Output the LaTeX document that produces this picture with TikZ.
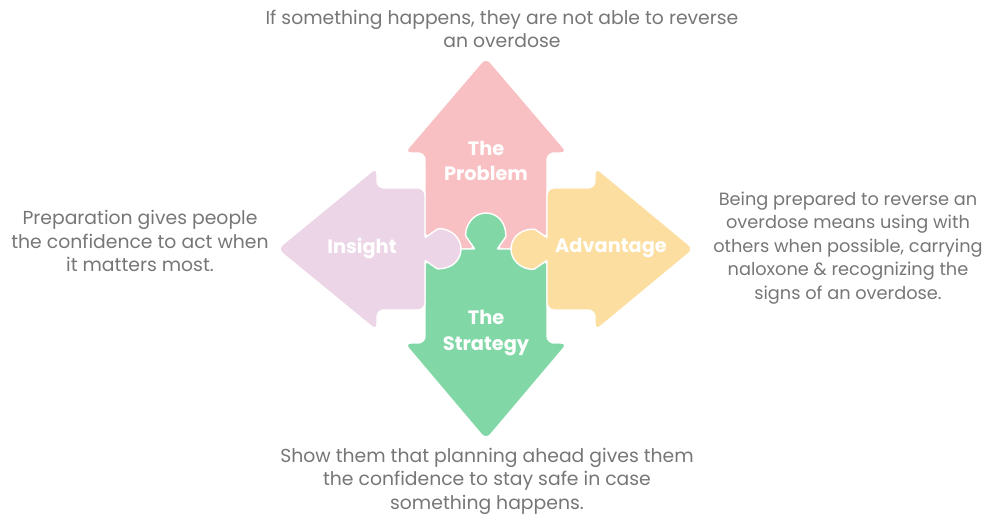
\documentclass[tikz,border=0pt]{standalone}
\usepackage{fontspec}
\setmainfont{Poppins}
\definecolor{problemfill}{RGB}{248,192,194}
\definecolor{strategyfill}{RGB}{129,216,166}
\definecolor{insightfill}{RGB}{236,213,230}
\definecolor{advantagefill}{RGB}{252,222,160}
\definecolor{notegray}{RGB}{118,118,118}
\begin{document}
\begin{tikzpicture}[x=0.02cm,y=0.02cm,
  piece/.style={draw=white, line width=0.8pt, line join=round, rounded corners=4pt},
  lbl/.style={text=white, font=\bfseries\fontsize{11}{14.5}\selectfont, align=center, inner sep=0pt},
  note/.style={text=notegray, font=\fontsize{10.7}{13.4}\selectfont, align=center, inner sep=0pt}]
\useasboundingbox (0,0) rectangle (1001,-516);

% upper arrow (pink)
\path[piece, fill=problemfill]
  (425,-249) -- (425,-153) -- (404,-153) -- (486,-57) -- (568,-153)
  -- (547,-153) -- (547,-249) -- cycle;

% lower arrow (green) with its knob on top
\path[piece, fill=strategyfill]
  (425,-249) -- (467,-249)
  .. controls (470.5,-249) and (472.2,-245.4) .. (470.44,-242.9)
  arc[start angle=215, end angle=-35, radius=19]
  .. controls (499.8,-245.4) and (501.5,-249) .. (505,-249)
  -- (547,-249) -- (547,-343) -- (568,-343) -- (486,-440)
  -- (404,-343) -- (425,-343) -- cycle;

% left arrow (purple) with its knob on the right
\path[piece, fill=insightfill]
  (277,-249) -- (377,-167) -- (377,-188) -- (425,-188) -- (425,-230)
  .. controls (425,-233.5) and (428.6,-235.2) .. (431.1,-233.44)
  arc[start angle=125, end angle=-125, radius=19]
  .. controls (428.6,-262.8) and (425,-264.5) .. (425,-268)
  -- (425,-310) -- (377,-310) -- (377,-331) -- cycle;

% right arrow (yellow) with its knob on the left
\path[piece, fill=advantagefill]
  (694,-249) -- (595,-331) -- (595,-310) -- (547,-310) -- (547,-268)
  .. controls (547,-264.5) and (543.4,-262.8) .. (540.9,-264.56)
  arc[start angle=305, end angle=55, radius=19]
  .. controls (543.4,-235.2) and (547,-233.5) .. (547,-230)
  -- (547,-188) -- (595,-188) -- (595,-167) -- cycle;

% piece labels
\node[lbl] (problem) at (486,-161) {The\\Problem};
\node[lbl] (strategy) at (486,-333) {The\\Strategy};
\node[lbl] (insight) at (362,-248) {Insight};
\node[lbl] (advantage) at (611,-248) {Advantage};

% surrounding notes
\node[note] (problemnote) at (502,-29) {If something happens, they are not able to reverse\\an overdose};
\node[note] (insightnote) at (140,-241) {Preparation gives people\\the confidence to act when\\it matters most.};
\node[note, font=\fontsize{10.1}{13.4}\selectfont] (advantagenote) at (848,-248) {Being prepared to reverse an\\overdose means using with\\others when possible, carrying\\naloxone \& recognizing the\\signs of an overdose.};
\node[note] (strategynote) at (487,-481) {Show them that planning ahead gives them\\the confidence to stay safe in case\\something happens.};
\end{tikzpicture}
\end{document}
